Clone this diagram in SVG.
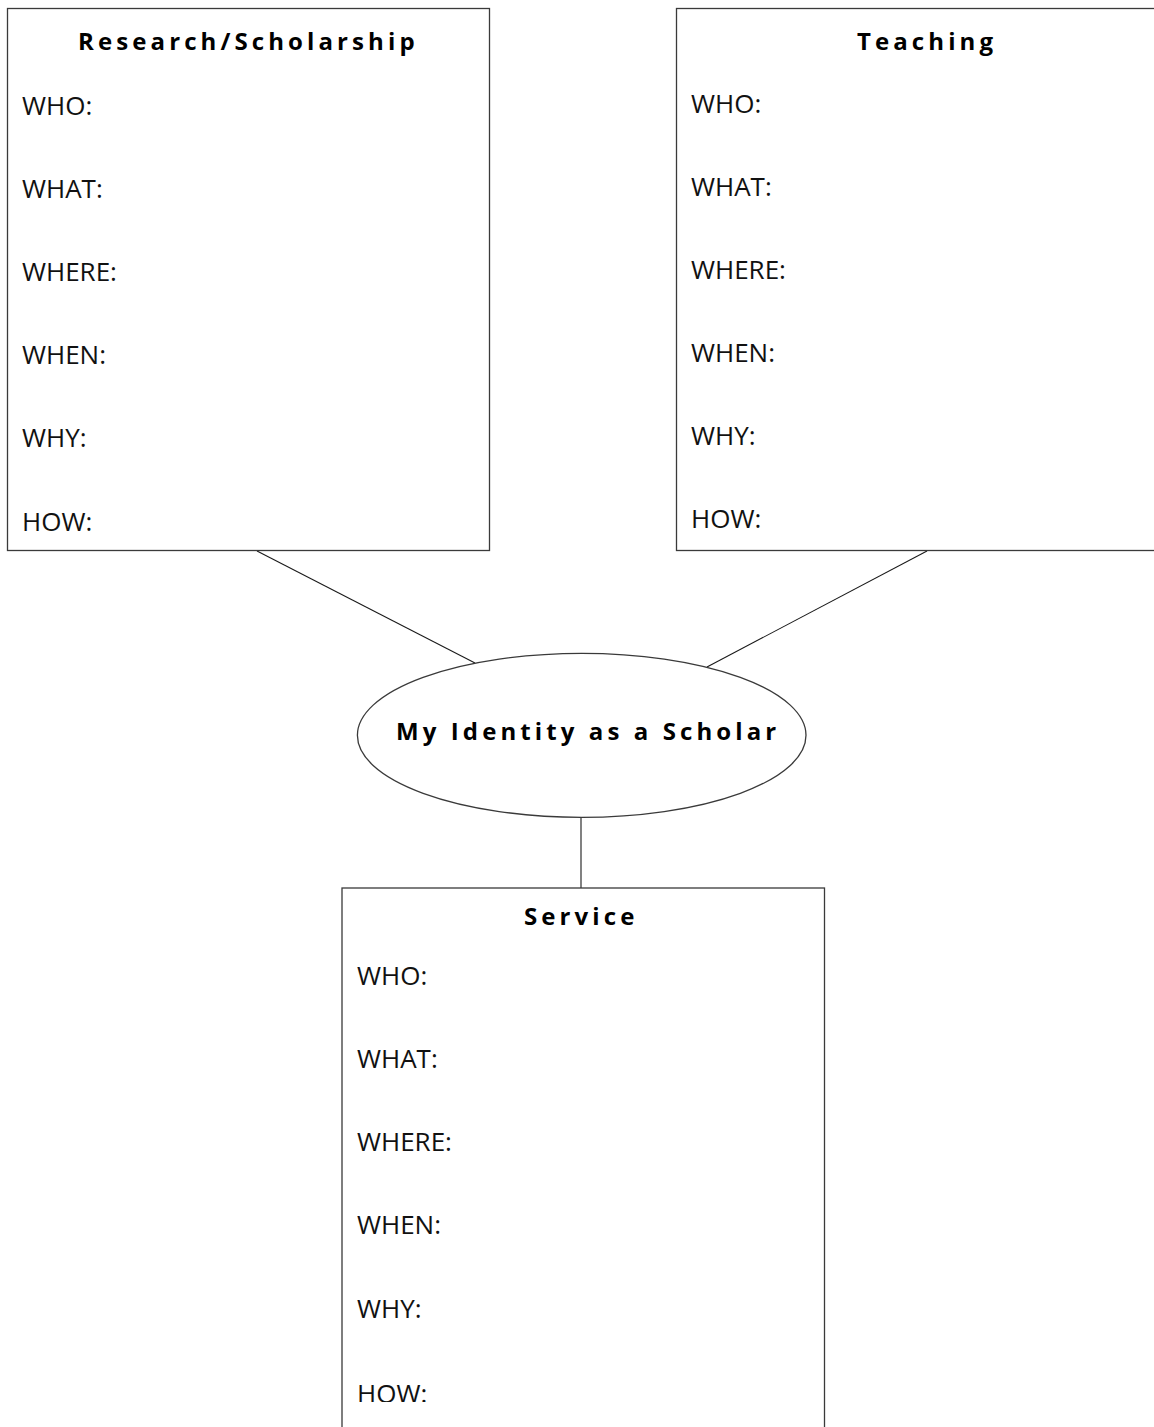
<svg xmlns="http://www.w3.org/2000/svg" width="1154" height="1427" viewBox="0 0 1154 1427">
<defs>
<style>
.box{fill:#fff;stroke:#3a3a3a;stroke-width:1.3}
.conn{stroke:#1a1a1a;stroke-width:1.1;fill:none}
.title{font-family:"Open Sans","DejaVu Sans",sans-serif;font-weight:700;font-size:24px;letter-spacing:4.1px;fill:#000}
.body{font-family:"Open Sans","DejaVu Sans",sans-serif;font-weight:400;font-size:26px;fill:#111}
</style>
<clipPath id="svcClip"><rect x="342" y="888" width="483" height="514"/></clipPath>
</defs>
<rect width="1154" height="1427" fill="#fff"/>
<g id="connectors">
<line class="conn" x1="257" y1="551" x2="475" y2="663"/>
<line class="conn" x1="927" y1="551" x2="707" y2="667"/>
<line class="conn" x1="581" y1="817" x2="581" y2="888"/>
</g>
<g id="research">
<rect class="box" x="7.5" y="8.5" width="482" height="542"/>
<text class="title" x="78" y="49.5">Research/Scholarship</text>
<text class="body" x="22" y="115">WHO:</text>
<text class="body" x="22" y="198">WHAT:</text>
<text class="body" x="22" y="281">WHERE:</text>
<text class="body" x="22" y="364">WHEN:</text>
<text class="body" x="22" y="447">WHY:</text>
<text class="body" x="22" y="531">HOW:</text>
</g>
<g id="teaching">
<rect class="box" x="676.5" y="8.5" width="501" height="542"/>
<text class="title" x="857" y="49.5">Teaching</text>
<text class="body" x="691" y="113">WHO:</text>
<text class="body" x="691" y="196">WHAT:</text>
<text class="body" x="691" y="279">WHERE:</text>
<text class="body" x="691" y="362">WHEN:</text>
<text class="body" x="691" y="445">WHY:</text>
<text class="body" x="691" y="528">HOW:</text>
</g>
<g id="identity">
<ellipse class="box" cx="581.7" cy="735.3" rx="224.3" ry="82"/>
<text class="title" x="396" y="740">My Identity as a Scholar</text>
</g>
<g id="service">
<rect class="box" x="342" y="888" width="482.5" height="560"/>
<text class="title" x="524" y="925">Service</text>
<g clip-path="url(#svcClip)">
<text class="body" x="357" y="985">WHO:</text>
<text class="body" x="357" y="1068">WHAT:</text>
<text class="body" x="357" y="1151">WHERE:</text>
<text class="body" x="357" y="1234">WHEN:</text>
<text class="body" x="357" y="1318">WHY:</text>
<text class="body" x="357" y="1403">HOW:</text>
</g>
</g>
</svg>
